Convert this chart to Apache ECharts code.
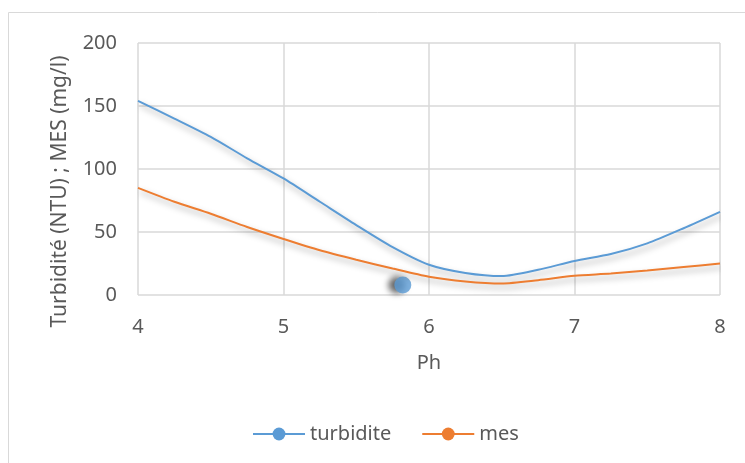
<!DOCTYPE html>
<html><head><meta charset="utf-8">
<script src="https://cdn.jsdelivr.net/npm/echarts@6/dist/echarts.min.js"></script>
<style>html,body{margin:0;padding:0;background:#fff}#c{width:745px;height:463px}</style>
</head><body><div id="c"></div>
<script>
const phValues = [4, 4.25, 4.5, 4.75, 5, 5.25, 5.5, 5.75, 6, 6.25, 6.5, 6.75, 7, 7.25, 7.5, 7.75, 8];
const turbidite = [154, 140, 125.5, 108.5, 92.5, 74, 55.5, 38, 24, 17.5, 15, 20, 27, 32.5, 41, 53, 66];
const mes = [85, 74, 64.5, 54, 44.5, 35.5, 28, 21, 14.5, 10.8, 9.2, 11.8, 15.2, 17, 19.5, 22.2, 25];
const strayPoint = [[5.82, 8]];
const yTicks = { min: 0, max: 200, interval: 50 };
const xTicks = { min: 4, max: 8, interval: 1 };

const BLUE = '#5B9BD5', ORANGE = '#ED7D31', TXT = '#595959', GRID = '#D9D9D9';
const FONT = 'Noto Sans';
const pairs = (xs, ys) => xs.map((x, i) => [x, ys[i]]);
const shadow = { shadowColor: 'rgba(0,0,0,0.35)', shadowBlur: 6, shadowOffsetX: 2, shadowOffsetY: 4 };

const chart = echarts.init(document.getElementById('c'));
chart.setOption({
  animation: false,
  textStyle: { fontFamily: FONT },
  graphic: [{ type: 'rect', shape: { x: 8.5, y: 12.5, width: 800, height: 500 },
    style: { fill: 'none', stroke: GRID, lineWidth: 1 }, silent: true, z: -1 }],
  grid: { left: 138, right: 25, top: 43, bottom: 168 },
  legend: {
    data: ['turbidite', 'mes'], left: 247, top: 419,
    itemWidth: 52, itemHeight: 16, itemGap: 30,
    textStyle: { color: TXT, fontSize: 20, fontFamily: FONT }
  },
  xAxis: {
    type: 'value', min: xTicks.min, max: xTicks.max, interval: xTicks.interval,
    name: 'Ph', nameLocation: 'middle', nameGap: 58,
    nameTextStyle: { color: TXT, fontSize: 20, fontFamily: FONT },
    axisLine: { show: false }, axisTick: { show: false },
    axisLabel: { color: TXT, fontSize: 20, margin: 22 },
    splitLine: { lineStyle: { color: GRID, width: 1.5 } }
  },
  yAxis: {
    type: 'value', min: yTicks.min, max: yTicks.max, interval: yTicks.interval,
    name: 'Turbidité (NTU) ; MES (mg/l)', nameLocation: 'middle', nameGap: 67,
    nameTextStyle: { color: TXT, fontSize: 21, fontFamily: FONT, padding: [0, 45, 0, 0] },
    axisLine: { show: false }, axisTick: { show: false },
    axisLabel: { color: TXT, fontSize: 20, margin: 21 },
    splitLine: { lineStyle: { color: GRID, width: 1.5 } }
  },
  series: [
    { name: 'turbidite', type: 'line', data: pairs(phValues, turbidite), smooth: 0.25,
      symbol: 'circle', symbolSize: 14, showSymbol: false,
      itemStyle: { color: BLUE }, lineStyle: Object.assign({ color: BLUE, width: 2 }, shadow) },
    { name: 'mes', type: 'line', data: pairs(phValues, mes), smooth: 0.25,
      symbol: 'circle', symbolSize: 14, showSymbol: false,
      itemStyle: { color: ORANGE }, lineStyle: Object.assign({ color: ORANGE, width: 2 }, shadow) },
    { name: 'point', type: 'scatter', data: strayPoint, symbolSize: 17,
      itemStyle: { color: BLUE, shadowColor: 'rgba(0,0,0,0.75)', shadowBlur: 6, shadowOffsetX: -6, shadowOffsetY: 0 } }
  ]
});
</script></body></html>
